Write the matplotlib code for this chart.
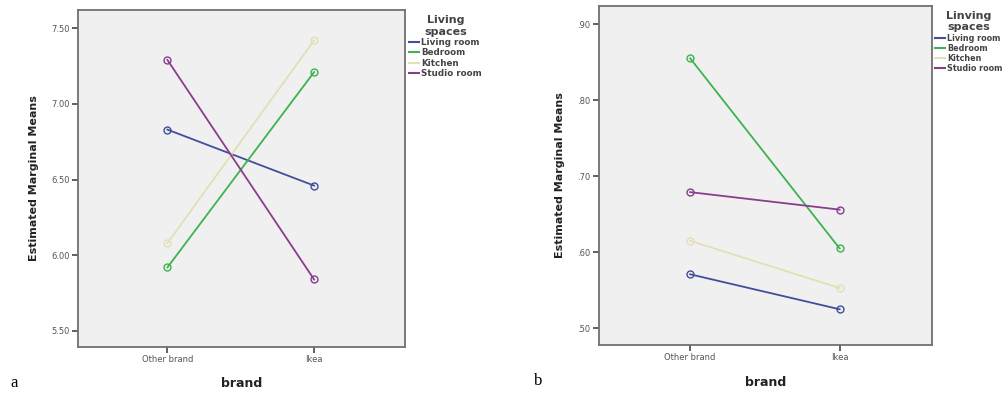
import numpy as np
import matplotlib.pyplot as plt
from matplotlib.lines import Line2D

brands = ["Other brand", "Ikea"]
spaces = ["Living room", "Bedroom", "Kitchen", "Studio room"]
colors = ["#3f4f9c", "#3db34e", "#e3dfb6", "#8a3c8e"]

# panel a
means_a = {
    "Living room": [6.83, 6.46],
    "Bedroom": [5.92, 7.21],
    "Kitchen": [6.08, 7.42],
    "Studio room": [7.29, 5.84],
}
yticks_a = [5.50, 6.00, 6.50, 7.00, 7.50]
yticklabels_a = ["5.50", "6.00", "6.50", "7.00", "7.50"]

# panel b
means_b = {
    "Living room": [0.571, 0.525],
    "Bedroom": [0.855, 0.605],
    "Kitchen": [0.615, 0.553],
    "Studio room": [0.679, 0.656],
}
yticks_b = [0.50, 0.60, 0.70, 0.80, 0.90]
yticklabels_b = [".50", ".60", ".70", ".80", ".90"]

fig = plt.figure(figsize=(10.08, 3.99), dpi=100)
ax_a = fig.add_axes([0.0774, 0.1303, 0.3244, 0.8446])
ax_b = fig.add_axes([0.5942, 0.1353, 0.3307, 0.8496])


def draw(ax, means, yticks, yticklabels, ylim, legend_title, fs):
    x = np.arange(len(brands))
    handles = []
    for name, c in zip(spaces, colors):
        ax.plot(x, means[name], color=c, lw=1.3, marker="o", ms=5,
                mfc="none", mec=c, mew=1.0)
        handles.append(Line2D([], [], color=c, lw=1.5, label=name))
    ax.set_facecolor("#f0f0f0")
    ax.set_xlim(-0.61, 1.62)
    ax.set_ylim(*ylim)
    ax.set_xticks(x)
    ax.set_xticklabels(brands)
    ax.set_yticks(yticks)
    ax.set_yticklabels(yticklabels)
    ax.tick_params(axis="both", labelsize=6, colors="#555555", length=4,
                   width=1.2, pad=2)
    ax.tick_params(axis="both", color="#444444")
    for s in ax.spines.values():
        s.set_color("#707070")
        s.set_linewidth(1.3)
    ax.set_ylabel("Estimated Marginal Means", fontsize=8, fontweight="bold",
                  color="#222222")
    ax.set_xlabel("brand", fontsize=9, fontweight="bold", color="#222222")
    ax.xaxis.set_label_coords(0.5, -0.09)
    leg = ax.legend(handles=handles, loc="upper left",
                    bbox_to_anchor=(0.995, 1.0), frameon=False, fontsize=fs,
                    title=legend_title, title_fontsize=8, handlelength=1.2,
                    handletextpad=0.25, labelspacing=0.15, borderaxespad=0.2)
    for t in leg.get_texts():
        t.set_color("#444444")
        t.set_fontweight("semibold")
    leg.get_title().set_color("#444444")
    leg.get_title().set_fontweight("semibold")
    leg.get_title().set_multialignment("center")


draw(ax_a, means_a, yticks_a, yticklabels_a, (5.394, 7.62), "Living\nspaces", 6.3)
draw(ax_b, means_b, yticks_b, yticklabels_b, (0.478, 0.9237), "Linving\nspaces", 5.8)
ax_a.yaxis.set_label_coords(-0.119, 0.5)
ax_b.yaxis.set_label_coords(-0.102, 0.5)

fig.text(0.010, 0.03, "a", fontsize=12, family="Liberation Serif")
fig.text(0.530, 0.035, "b", fontsize=12, family="Liberation Serif")

plt.savefig("out.png", dpi=100)
